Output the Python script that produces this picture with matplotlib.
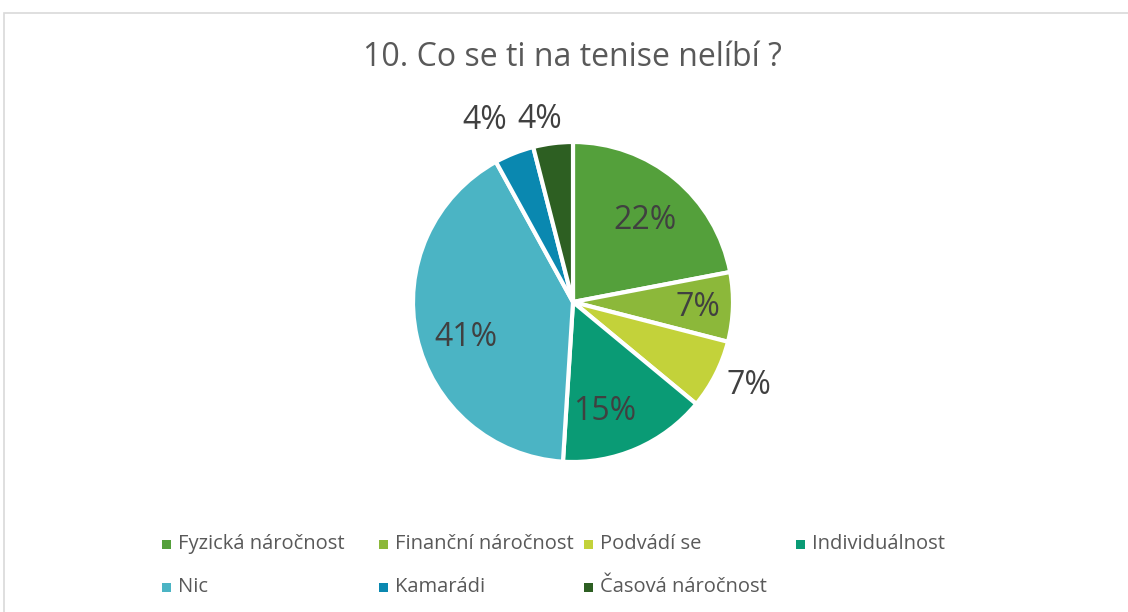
import numpy as np
import matplotlib
matplotlib.use("Agg")
import matplotlib.pyplot as plt
from matplotlib.patches import Rectangle

plt.rcParams['font.family'] = ['Open Sans', 'DejaVu Sans']

title = "10. Co se ti na tenise nelíbí ?"
categories = ["Fyzická náročnost", "Finanční náročnost", "Podvádí se",
              "Individuálnost", "Nic", "Kamarádi", "Časová náročnost"]
percents = [22, 7, 7, 15, 41, 4, 4]
colors = ["#54A03B", "#8CB83A", "#C3D23A", "#0A9B75",
          "#4BB4C4", "#0A88B0", "#2D5F22"]
# label placement: radial distance (fraction of radius) and angle shift (deg)
label_dist = [0.69, 0.78, 1.21, 0.70, 0.70, 1.27, 1.17]
label_shift = [-1, 0, 2, -7, 5, 4, 3]

W, H = 1128, 612
fig = plt.figure(figsize=(W / 100, H / 100), dpi=100)
ax = fig.add_axes([0, 0, 1, 1])
ax.axis('off')

# chart frame
ax.add_patch(Rectangle((4, -10), W + 10, H - 13 + 10, fill=False,
                       edgecolor="#d9d9d9", linewidth=1.2))

cx, cy, R = 573, H - 302, 160
wedges, _ = ax.pie(percents, colors=colors, startangle=90, counterclock=False,
                   center=(cx, cy), radius=R,
                   wedgeprops=dict(edgecolor="white", linewidth=3))
ax.set_xlim(0, W)
ax.set_ylim(0, H)
ax.set_aspect('equal')

for w, p, d, s in zip(wedges, percents, label_dist, label_shift):
    mid = np.deg2rad((w.theta1 + w.theta2) / 2 + s)
    x = cx + d * R * np.cos(mid)
    y = cy + d * R * np.sin(mid)
    ax.text(x, y - 2, f"{p}%", ha='center', va='center',
            fontsize=23, color="#404040")

ax.text(572, H - 58, title, ha='center', va='center', fontsize=23, color="#595959")

# legend
col_x = [166, 383, 588, 800]
row_y = [H - 544, H - 587]
for i, (cat, col) in enumerate(zip(categories, colors)):
    x = col_x[i % 4]
    y = row_y[i // 4]
    ax.add_patch(Rectangle((x - 4.5, y - 4.5), 9, 9, facecolor=col, edgecolor='none'))
    ax.text(x + 12, y, cat, ha='left', va='center', fontsize=14.5, color="#595959")

fig.savefig("out.png", dpi=100)
